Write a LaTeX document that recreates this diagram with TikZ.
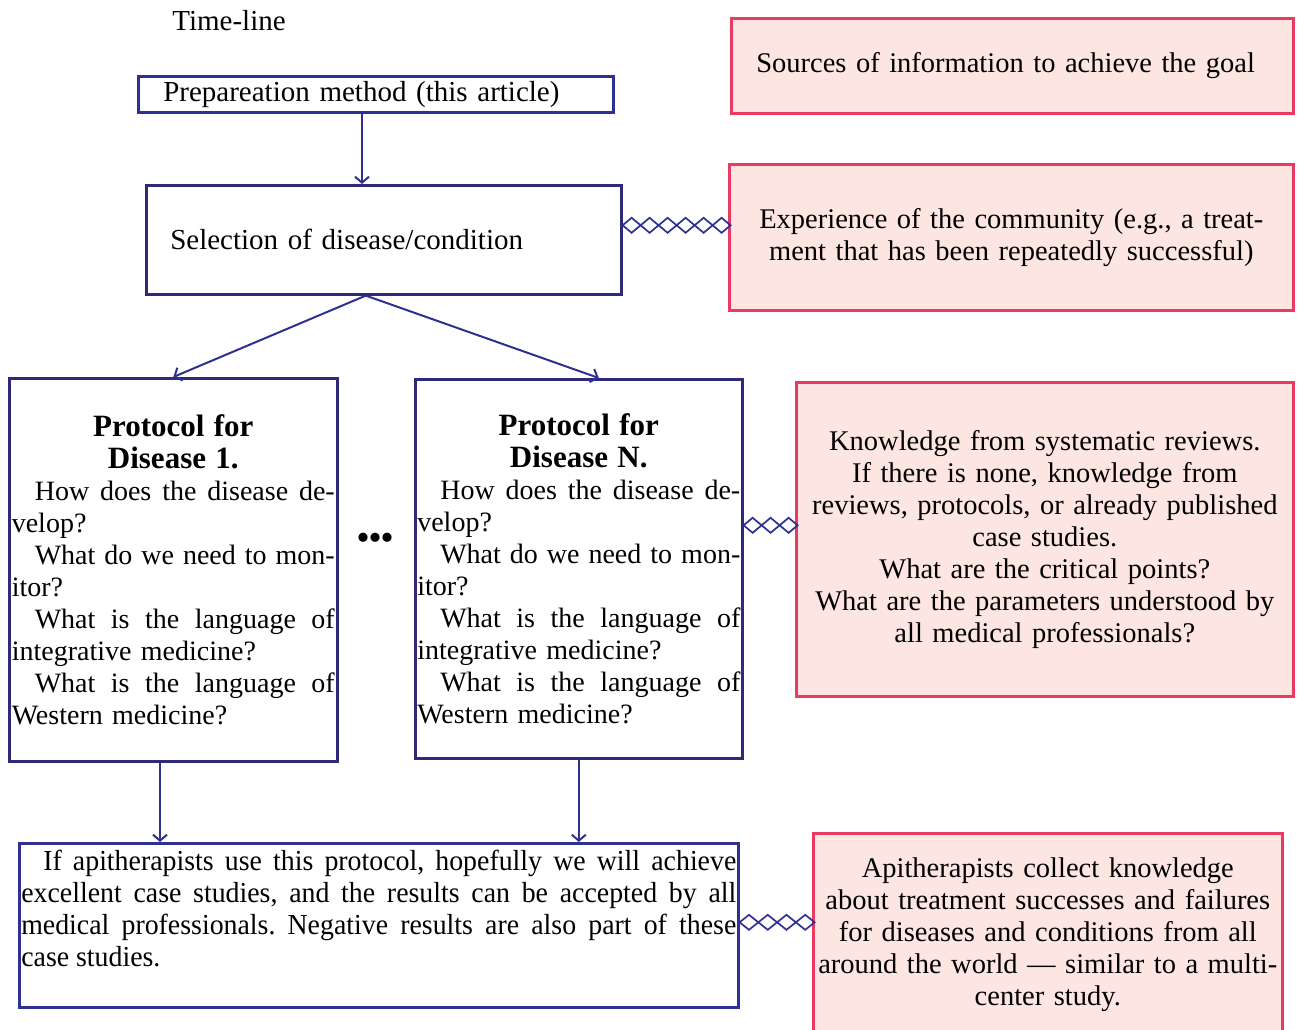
\documentclass[tikz,border=0pt]{standalone}
\usepackage{fontspec}
\setmainfont{Liberation Serif}
\newfontfamily\narrowserif[FakeStretch=0.96]{Liberation Serif}
\usetikzlibrary{arrows.meta}
\frenchspacing

\definecolor{navy}{RGB}{46,42,120}
\definecolor{flowblue}{RGB}{46,49,146}
\definecolor{rosefill}{RGB}{253,230,226}
\definecolor{roseline}{RGB}{234,58,100}

\newcommand{\jline}[2]{\leavevmode\hbox to #1{\spaceskip=0.25em plus 1fil minus 0.1em\relax #2}}
\newcommand{\midline}[2]{\leavevmode\hbox to #1{\hfil #2\hfil}}

\begin{document}
\begin{tikzpicture}[x=1pt, y=1pt,
  font=\fontsize{29}{32}\selectfont,
  bluebox/.style={draw=#1, line width=2.6pt, anchor=north west, inner ysep=0pt},
  protbox/.style={bluebox=navy, font=\fontsize{28}{32}\selectfont, align=left},
  rosebox/.style={draw=roseline, fill=rosefill, line width=2.6pt, anchor=north west, inner ysep=0pt, align=center, font=\fontsize{28.5}{32}\selectfont},
  flow/.style={draw=flowblue, line width=2pt, -{Straight Barb[length=6pt,width=14pt]}},
  tie/.style={draw=flowblue, line width=1.7pt, line join=miter}]

\useasboundingbox (0,0) rectangle (1301,-1030);

\node (timeline) at (229,-21) {Time-line};

\node[bluebox=flowblue, minimum width=475pt, minimum height=36pt, text width=425pt, inner xsep=25pt, align=left] (prep) at (137,-75) {Prepareation method (this article)};
\node[bluebox=navy, minimum width=475pt, minimum height=109pt, text width=427pt, inner xsep=24pt, align=left] (sel) at (145,-184) {Selection of disease/condition};
\draw[flow] (prep.south -| 362,0) -- (sel.north -| 362,0);

\node[protbox, minimum width=328pt, minimum height=383pt, text width=323pt, inner xsep=2.5pt] (protA) at (8,-377) {\midline{323pt}{\fontsize{31}{33}\bfseries Protocol for}\\ \midline{323pt}{\fontsize{31}{33}\bfseries Disease 1.}\\ \jline{323pt}{\hspace*{23pt}How does the disease de-}\\ velop?\\ \jline{323pt}{\hspace*{23pt}What do we need to mon-}\\ itor?\\ \jline{323pt}{\hspace*{23pt}What is the language of}\\ integrative medicine?\\ \jline{323pt}{\hspace*{23pt}What is the language of}\\ Western medicine?};
\node[protbox, minimum width=327pt, minimum height=379pt, text width=323pt, inner xsep=2pt] (protN) at (414,-378) {\midline{323pt}{\fontsize{31}{33}\bfseries Protocol for}\\ \midline{323pt}{\fontsize{31}{33}\bfseries Disease N.}\\ \jline{323pt}{\hspace*{23pt}How does the disease de-}\\ velop?\\ \jline{323pt}{\hspace*{23pt}What do we need to mon-}\\ itor?\\ \jline{323pt}{\hspace*{23pt}What is the language of}\\ integrative medicine?\\ \jline{323pt}{\hspace*{23pt}What is the language of}\\ Western medicine?};
\node[font=\fontsize{56}{56}\bfseries] (gap) at (375,-538) {.\kern-2pt.\kern-2pt.};
\draw[flow] ([xshift=-18pt]sel.south) -- (protA.north);
\draw[flow] ([xshift=-18pt]sel.south) -- ([xshift=20pt]protN.north);

\node[bluebox=flowblue, minimum width=719pt, minimum height=164pt, inner xsep=2pt, font=\fontsize{29}{32}\narrowserif] (result) at (18,-842) {\parbox[c][150pt][t]{715pt}{\jline{715pt}{\hspace*{22pt}If apitherapists use this protocol, hopefully we will achieve}\\ \jline{715pt}{excellent case studies, and the results can be accepted by all}\\ \jline{715pt}{medical professionals. Negative results are also part of these}\\ case studies.}};
\draw[flow] (protA.south -| 160,0) -- (result.north -| 160,0);
\draw[flow] (protN.south) -- (result.north -| protN.south);

\node[rosebox, minimum width=562pt, minimum height=95pt, text width=512pt, inner xsep=25pt, align=left] (srcS) at (730,-17) {Sources of information to achieve the goal};
\node[rosebox, minimum width=564pt, minimum height=146pt, text width=540pt, inner xsep=12pt] (srcE) at (728,-163) {Experience of the community (e.g., a treat-\\ment that has been repeatedly successful)};
\node[rosebox, minimum width=497pt, minimum height=314pt, text width=489pt, inner xsep=4pt] (srcK) at (795,-381) {Knowledge from systematic reviews.\\If there is none, knowledge from\\reviews, protocols, or already published\\case studies.\\What are the critical points?\\What are the parameters understood by\\all medical professionals?};
\node[rosebox, minimum width=469pt, minimum height=202pt, text width=465pt, inner xsep=2pt] (srcA) at (812,-832) {Apitherapists collect knowledge\\about treatment successes and failures\\for diseases and conditions from all\\around the world~— similar to a multi-\\center study.};

\coordinate (tieE) at ([yshift=14.5pt]sel.east);
\coordinate (tieK) at ([yshift=43.5pt]protN.east);
\coordinate (tieA) at ([yshift=3pt]result.east);
\foreach \i in {0,...,5}
  \draw[tie] ([xshift=\i*18pt]tieE) -- ++(9,7.5) -- ++(9,-7.5) -- ++(-9,-7.5) -- cycle;
\foreach \i in {0,...,2}
  \draw[tie] ([xshift=\i*18pt]tieK) -- ++(9,7.5) -- ++(9,-7.5) -- ++(-9,-7.5) -- cycle;
\foreach \i in {0,...,3}
  \draw[tie] ([xshift=\i*18.75pt]tieA) -- ++(9.375,7.5) -- ++(9.375,-7.5) -- ++(-9.375,-7.5) -- cycle;

\end{tikzpicture}
\end{document}
